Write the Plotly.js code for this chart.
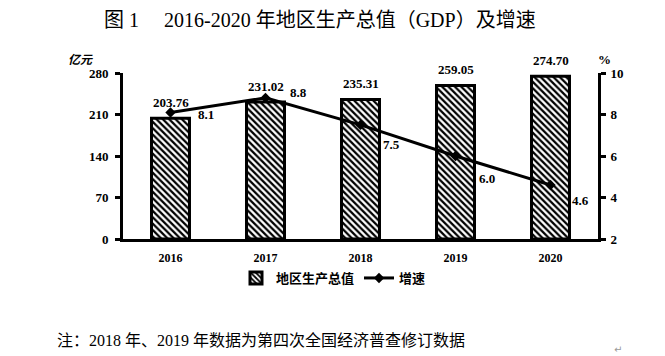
<!DOCTYPE html>
<html>
<head>
<meta charset="utf-8">
<script src="https://cdn.plot.ly/plotly-3.0.1.min.js"></script>
<style>html,body{margin:0;padding:0;background:#fff;}#chart{width:665px;height:356px;}</style>
</head>
<body>
<div id="chart"></div>
<script>
const years = ['2016', '2017', '2018', '2019', '2020'];
const gdp = [203.76, 231.02, 235.31, 259.05, 274.70];
const growth = [8.1, 8.8, 7.5, 6.0, 4.6];
const gdpTicks = [0, 70, 140, 210, 280];
const growthTicks = [2, 4, 6, 8, 10];

const serif = '"Liberation Serif", "Times New Roman", "Noto Sans CJK SC", serif';
const cjk = '"Liberation Serif", "Noto Sans CJK SC", sans-serif';

const W = 665, H = 356, L = 123, R = 67, T = 73, B = 117;
const pw = W - L - R, ph = H - T - B;
function px(x) { return (x - L) / pw; }
function py(y) { return (H - B - y) / ph; }

// label offsets (pixels) for growth labels, styling only
const gShift = [[35, -2], [33, 5], [31, -20], [31, -22], [30, -15]];

const annotations = [];
years.forEach((y, i) => {
  annotations.push({
    x: i, y: gdp[i], xref: 'x', yref: 'y', text: gdp[i].toFixed(2),
    showarrow: false, yanchor: 'bottom', yshift: 6,
    font: {family: serif, size: 13, color: '#000', weight: 'bold'}
  });
  annotations.push({
    x: i, y: growth[i], xref: 'x', yref: 'y2', text: growth[i].toFixed(1),
    showarrow: false, xshift: gShift[i][0], yshift: gShift[i][1],
    font: {family: serif, size: 13, color: '#000', weight: 'bold'}
  });
});
annotations.push({
  x: px(80), y: py(58), xref: 'paper', yref: 'paper', text: '<b><i>亿元</i></b>', showarrow: false,
  xanchor: 'center', yanchor: 'middle', font: {family: '"Noto Sans CJK SC", sans-serif', size: 12, color: '#000'}
});
annotations.push({
  x: px(604), y: py(60), xref: 'paper', yref: 'paper', text: '<b>%</b>', showarrow: false,
  xanchor: 'center', yanchor: 'middle', font: {family: serif, size: 13, color: '#000'}
});
annotations.push({
  x: px(55), y: py(340), xref: 'paper', yref: 'paper', xanchor: 'left', yanchor: 'middle',
  text: '注：2018 年、2019 年数据为第四次全国经济普查修订数据', showarrow: false,
  font: {family: cjk, size: 16, color: '#000'}
});
annotations.push({
  x: px(618), y: py(349), xref: 'paper', yref: 'paper', xanchor: 'center', yanchor: 'middle',
  text: '↵', showarrow: false, font: {family: 'DejaVu Sans', size: 10, color: '#999'}
});

const data = [
  {
    type: 'bar', x: years, y: gdp, name: '地区生产总值', width: 0.4,
    marker: {
      color: '#fff',
      pattern: {shape: '\\', fgcolor: '#000', bgcolor: '#fff', size: 4.5, solidity: 0.5},
      line: {color: '#000', width: 3}
    },
    hoverinfo: 'skip'
  },
  {
    type: 'scatter', mode: 'lines+markers', x: years, y: growth, yaxis: 'y2', name: '增速',
    line: {color: '#000', width: 3},
    marker: {symbol: 'diamond', size: 8, color: '#000'},
    hoverinfo: 'skip'
  }
];

const layout = {
  width: W, height: H,
  margin: {l: L, r: R, t: T, b: B, pad: 0},
  paper_bgcolor: '#fff', plot_bgcolor: '#fff',
  showlegend: true,
  title: {
    text: '图 1\u00a0\u00a0\u00a0\u00a0\u00a02016-2020 年地区生产总值（GDP）及增速',
    x: 104 / W, xanchor: 'left', y: 1 - 20 / H, yanchor: 'middle', xref: 'container', yref: 'container',
    font: {family: cjk, size: 20, color: '#000'}
  },
  xaxis: {
    type: 'category', range: [-0.5, 4.5],
    showline: true, linecolor: '#000', linewidth: 3, ticks: '', showgrid: false, zeroline: false,
    tickfont: {family: serif, size: 12, color: '#000', weight: 'bold'}, ticklabelstandoff: 6
  },
  yaxis: {
    range: [0, 280], tickvals: gdpTicks, ticktext: gdpTicks.map(String),
    showline: true, linecolor: '#000', linewidth: 3, ticks: 'outside', ticklen: 5, tickwidth: 3, tickcolor: '#000',
    showgrid: false, zeroline: false,
    tickfont: {family: serif, size: 13, color: '#000', weight: 'bold'}, ticklabelstandoff: 4
  },
  yaxis2: {
    overlaying: 'y', side: 'right', range: [2, 10], tickvals: growthTicks, ticktext: growthTicks.map(String),
    showline: true, linecolor: '#000', linewidth: 3, ticks: 'outside', ticklen: 5, tickwidth: 3, tickcolor: '#000',
    showgrid: false, zeroline: false,
    tickfont: {family: serif, size: 13, color: '#000', weight: 'bold'}, ticklabelstandoff: 2
  },
  legend: {
    orientation: 'h', x: px(236), xanchor: 'left', y: py(278), yanchor: 'middle',
    font: {family: '"Noto Sans CJK SC", sans-serif', size: 13, color: '#000', weight: 'bold'},
    itemwidth: 30, tracegroupgap: 0, bgcolor: 'rgba(0,0,0,0)'
  },
  annotations: annotations
};

Plotly.newPlot('chart', data, layout, {displayModeBar: false, staticPlot: true});
</script>
</body>
</html>
